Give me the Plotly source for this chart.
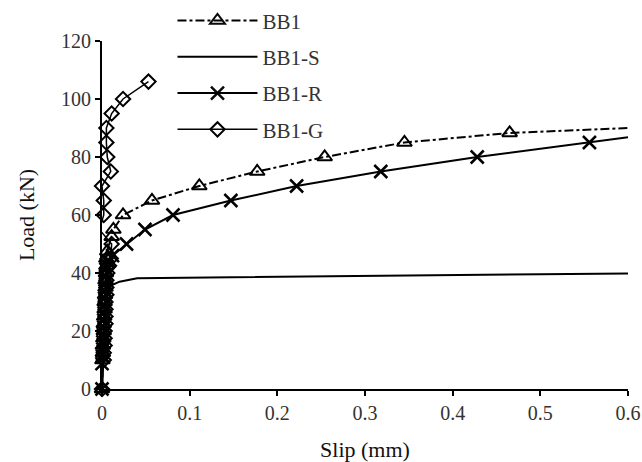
import plotly.graph_objects as go

# ---- data ----
bb1_slip = [0.0, 0.0005, 0.001, 0.001, 0.0015, 0.002, 0.002, 0.0025, 0.003, 0.003, 0.0035, 0.004, 0.004, 0.0045, 0.005, 0.005, 0.006,
            0.011, 0.013, 0.024, 0.057, 0.111, 0.177, 0.254, 0.345, 0.465, 0.6]
bb1_load = [0.0, 10.0, 12.5, 15.0, 17.5, 20.0, 22.5, 25.0, 27.5, 30.0, 32.5, 35.0, 37.5, 40.0, 42.5, 45.0, 47.5,
            52.5, 55.0, 60.0, 65.0, 70.0, 75.0, 80.0, 85.0, 88.3, 90.0]
bb1_mark = [1] * 26 + [0]

bb1s_slip = [0.0, 0.001, 0.002, 0.004, 0.009, 0.02, 0.04, 0.1, 0.2, 0.3, 0.4, 0.5, 0.6]
bb1s_load = [0.0, 8.0, 20.0, 30.0, 35.5, 37.0, 38.2, 38.4, 38.7, 39.0, 39.3, 39.6, 39.8]

bb1r_slip = [0.0, 0.0, 0.0005, 0.001, 0.001, 0.0015, 0.002, 0.002, 0.0025, 0.003, 0.003, 0.0035, 0.004, 0.004, 0.0045,
             0.005, 0.008, 0.012, 0.028, 0.049, 0.081, 0.147, 0.222, 0.318, 0.428, 0.556, 0.6]
bb1r_load = [0.0, 8.75, 11.25, 13.75, 16.25, 18.75, 21.25, 23.75, 26.25, 28.75, 31.25, 33.75, 36.25, 38.75, 41.25,
             43.0, 44.0, 46.0, 50.0, 55.0, 60.0, 65.0, 70.0, 75.0, 80.0, 85.0, 86.8]
bb1r_mark = [1] * 26 + [0]

bb1g_slip = [0.0, 0.002, 0.002, 0.003, 0.003, 0.003, 0.004, 0.004, 0.004, 0.004, 0.005, 0.005, 0.005, 0.006, 0.008, 0.010, 0.011,
             -0.003, 0.002, 0.002, 0.0, 0.010, 0.006, 0.005, 0.005, 0.011, 0.024, 0.053]
bb1g_load = [0.0, 10.0, 12.5, 15.0, 17.5, 20.0, 22.5, 25.0, 27.5, 30.0, 32.5, 35.0, 37.5, 40.0, 42.5, 45.0, 50.0,
             55.0, 60.0, 65.0, 70.0, 75.0, 80.0, 85.0, 90.0, 95.0, 100.0, 106.0]

x_ticks = [0, 0.1, 0.2, 0.3, 0.4, 0.5, 0.6]
x_labels = ["0", "0.1", "0.2", "0.3", "0.4", "0.5", "0.6"]
y_ticks = [0, 20, 40, 60, 80, 100, 120]
y_labels = ["0", "20", "40", "60", "80", "100", "120"]

FONT = "Liberation Serif, Times New Roman, serif"
fig = go.Figure()

fig.add_trace(go.Scatter(
    x=bb1_slip, y=bb1_load, name="BB1", mode="lines+markers", legendgroup="a",
    line=dict(color="black", width=2, dash="dashdot"),
    marker=dict(symbol="triangle-up-open", size=13, color="black", opacity=bb1_mark,
                line=dict(width=2, color="black")),
    cliponaxis=False))
fig.add_trace(go.Scatter(
    x=bb1s_slip, y=bb1s_load, name="BB1-S", mode="lines", legendgroup="b",
    line=dict(color="black", width=2), cliponaxis=False))
fig.add_trace(go.Scatter(
    x=bb1r_slip, y=bb1r_load, name="BB1-R", mode="lines+markers", legendgroup="c",
    line=dict(color="black", width=2),
    marker=dict(symbol="x-thin-open", size=13, color="black", opacity=bb1r_mark,
                line=dict(width=2.5, color="black")),
    cliponaxis=False))
fig.add_trace(go.Scatter(
    x=bb1g_slip, y=bb1g_load, name="BB1-G", mode="lines+markers", legendgroup="d",
    line=dict(color="black", width=1.5),
    marker=dict(symbol="diamond-open", size=11, color="black",
                line=dict(width=2, color="black")),
    cliponaxis=False))

fig.update_layout(
    width=642, height=462,
    margin=dict(l=102, r=14, t=41, b=73, autoexpand=False),
    paper_bgcolor="white", plot_bgcolor="white",
    font=dict(family=FONT, color="#222", size=20),
    showlegend=True,
    legend=dict(x=0.134, y=1.117, xanchor="left", yanchor="top",
                bgcolor="rgba(0,0,0,0)", font=dict(size=21, family=FONT, color="#333"),
                traceorder="grouped", tracegroupgap=6, itemwidth=80),
)
fig.update_xaxes(
    range=[0, 0.6], tickvals=x_ticks, ticktext=x_labels,
    showline=True, linecolor="black", linewidth=2, showgrid=False, zeroline=False,
    ticks="outside", ticklen=5, tickwidth=2, tickcolor="black",
    tickfont=dict(size=20, family=FONT, color="#333"),
    title=dict(text="Slip (mm)", font=dict(size=22, family=FONT, color="#111"), standoff=20),
)
fig.update_yaxes(
    range=[0, 120], tickvals=y_ticks, ticktext=y_labels,
    showline=True, linecolor="black", linewidth=2, showgrid=False, zeroline=False,
    ticks="outside", ticklen=5, tickwidth=2, tickcolor="black",
    tickfont=dict(size=20, family=FONT, color="#333"),
    title=dict(text="Load (kN)", font=dict(size=22, family=FONT, color="#111"), standoff=20),
)

fig.write_html("out.html")
